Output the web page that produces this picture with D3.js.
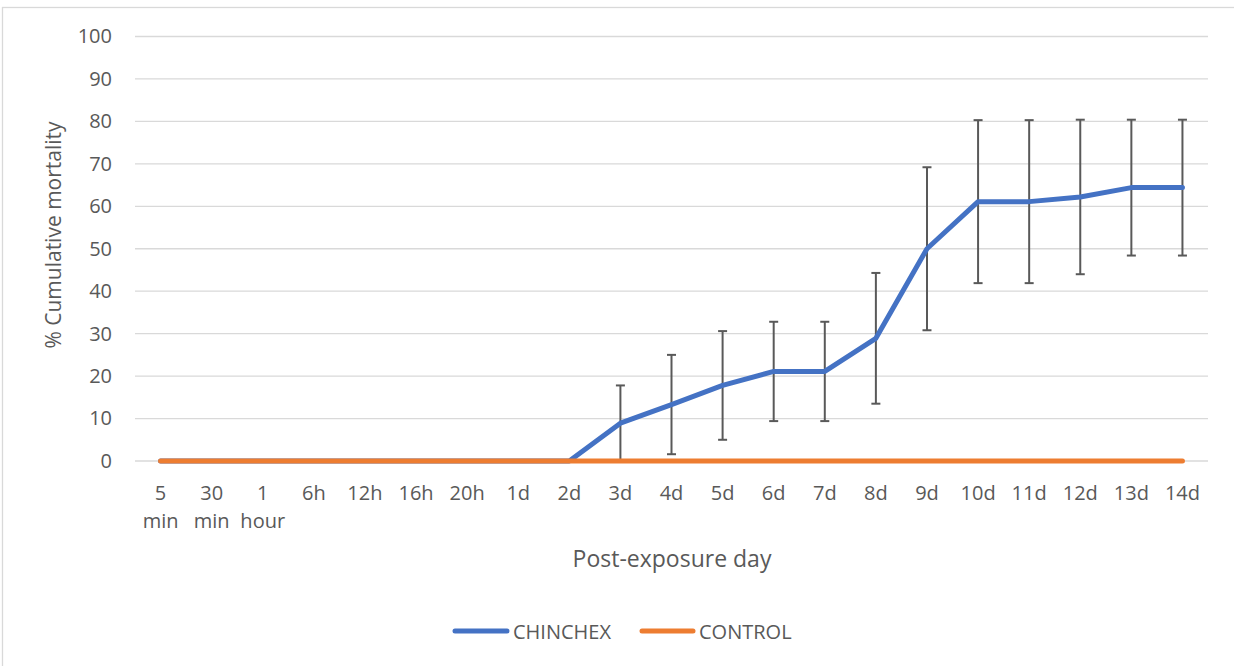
<!DOCTYPE html>
<html><head><meta charset="utf-8">
<script src="https://cdn.jsdelivr.net/npm/d3@7"></script>
<style>
html,body{margin:0;padding:0;background:#fff;}
svg{display:block;font-family:"Open Sans",sans-serif;}
</style></head>
<body>
<svg id="chart" width="1234" height="666"></svg>
<script>
const categories = ["5 min","30 min","1 hour","6h","12h","16h","20h","1d","2d","3d","4d","5d","6d","7d","8d","9d","10d","11d","12d","13d","14d"];
const chinchex = [0,0,0,0,0,0,0,0,0,8.9,13.3,17.8,21.1,21.1,28.9,50,61.1,61.1,62.2,64.4,64.4];
const chinchexErr = [null,null,null,null,null,null,null,null,null,8.9,11.7,12.8,11.7,11.7,15.4,19.2,19.2,19.2,18.2,16,16];
const control = [0,0,0,0,0,0,0,0,0,0,0,0,0,0,0,0,0,0,0,0,0];
const yTicks = [0,10,20,30,40,50,60,70,80,90,100];
const seriesNames = ["CHINCHEX","CONTROL"];
const colors = ["#4472C4","#ED7D31"];

(function(){
const svg = d3.select("#chart");
const textColor = "#595959";

// outer border
svg.append("rect").attr("x",2.5).attr("y",7.5).attr("width",1240).attr("height",670)
  .attr("fill","none").attr("stroke","#D9D9D9").attr("stroke-width",1.3);

const pLeft = 135, pRight = 1208, pTop = 36.5, pBottom = 461;
const x = d3.scaleBand().domain(categories).range([pLeft,pRight]).paddingInner(0).paddingOuter(0);
const cx = d => x(d) + x.bandwidth()/2;
const y = d3.scaleLinear().domain([0,100]).range([pBottom,pTop]);

// gridlines
svg.append("g").selectAll("line").data(yTicks).join("line")
  .attr("x1",pLeft).attr("x2",pRight).attr("y1",d=>y(d)).attr("y2",d=>y(d))
  .attr("stroke","#D9D9D9").attr("stroke-width",1.3);

// y axis labels
const yAxis = d3.axisLeft(y).tickValues(yTicks).tickSize(0).tickPadding(23);
const gy = svg.append("g").attr("transform",`translate(${pLeft},0)`).call(yAxis);
gy.select(".domain").remove();
gy.selectAll("text").attr("fill",textColor).style("font-size","20px").style("font-family","'Open Sans',sans-serif");

// x axis labels (wrapped)
const xAxis = d3.axisBottom(x).tickSize(0).tickFormat("");
const gx = svg.append("g").attr("transform",`translate(0,${pBottom})`).call(xAxis);
gx.select(".domain").remove();
gx.selectAll(".tick").each(function(d){
  const parts = d.split(" ");
  const t = d3.select(this).append("text").attr("fill",textColor)
    .attr("text-anchor","middle").style("font-size","20px").style("font-family","'Open Sans',sans-serif");
  parts.forEach((p,i)=>{
    t.append("tspan").attr("x",0).attr("y",39 + i*28).text(p);
  });
});

// axis titles
svg.append("text").attr("x",672).attr("y",567).attr("text-anchor","middle")
  .attr("fill",textColor).style("font-size","23px").text("Post-exposure day");
svg.append("text").attr("transform","translate(61,235) rotate(-90)").attr("text-anchor","middle")
  .attr("fill",textColor).style("font-size","21px").text("% Cumulative mortality");

// error bars
const eb = svg.append("g");
categories.forEach((c,i)=>{
  const e = chinchexErr[i];
  if (e == null) return;
  const v = chinchex[i];
  const lo = Math.max(0, v - e), hi = v + e;
  const px = cx(c);
  eb.append("line").attr("x1",px).attr("x2",px).attr("y1",y(lo)).attr("y2",y(hi))
    .attr("stroke","#595959").attr("stroke-width",2);
  eb.append("line").attr("x1",px-4.5).attr("x2",px+4.5).attr("y1",y(hi)).attr("y2",y(hi))
    .attr("stroke","#595959").attr("stroke-width",2);
  if (v - e > 0.01) {
    eb.append("line").attr("x1",px-4.5).attr("x2",px+4.5).attr("y1",y(lo)).attr("y2",y(lo))
      .attr("stroke","#595959").attr("stroke-width",2);
  }
});

// lines
const line = d3.line().x((d,i)=>cx(categories[i])).y(d=>y(d));
[chinchex, control].forEach((s,k)=>{
  svg.append("path").datum(s).attr("d",line).attr("fill","none")
    .attr("stroke",colors[k]).attr("stroke-width",5)
    .attr("stroke-linecap","round").attr("stroke-linejoin","round");
});

// legend
const legendItems = [{x1:455,x2:507,tx:513},{x1:642,x2:693,tx:699}];
legendItems.forEach((l,k)=>{
  svg.append("line").attr("x1",l.x1).attr("x2",l.x2).attr("y1",631).attr("y2",631)
    .attr("stroke",colors[k]).attr("stroke-width",5).attr("stroke-linecap","round");
  svg.append("text").attr("x",l.tx).attr("y",638.5).attr("fill",textColor)
    .style("font-size","20px").text(seriesNames[k]);
});
})();
</script>
</body></html>
